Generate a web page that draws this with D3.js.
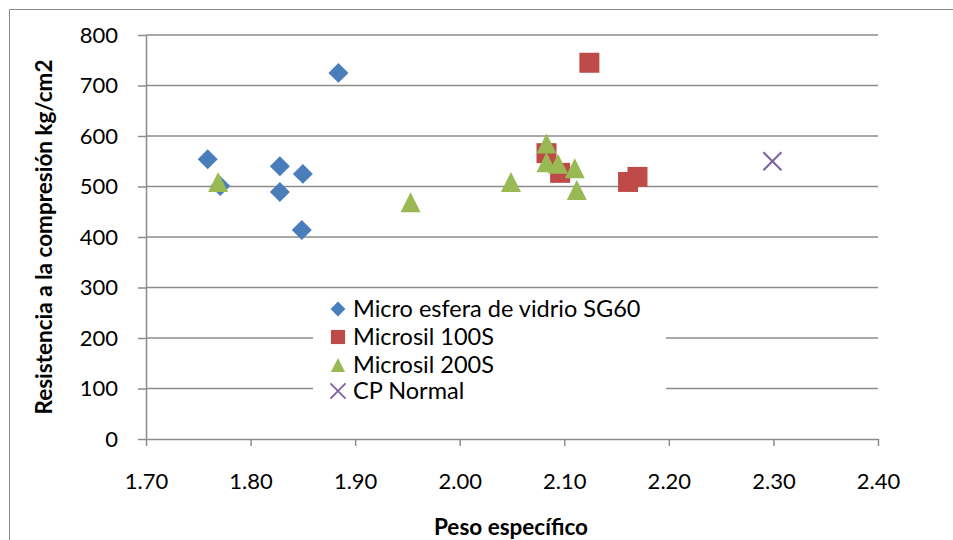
<!DOCTYPE html>
<html>
<head>
<meta charset="utf-8">
<script src="https://cdn.jsdelivr.net/npm/d3@7/dist/d3.min.js"></script>
<style>
  body { margin: 0; background: #fff; }
  svg { display: block; font-family: Lato, "Open Sans", sans-serif; }
</style>
</head>
<body>
<div id="chart"></div>
<script>
// series
const microX = [1.759, 1.771, 1.828, 1.828, 1.850, 1.849, 1.884];
const microY = [554, 501, 540, 489, 525, 414, 725];
const m100X = [2.124, 2.083, 2.096, 2.161, 2.170];
const m100Y = [745, 566, 527, 509, 519];
const m200X = [1.769, 1.953, 2.049, 2.083, 2.083, 2.094, 2.110, 2.112];
const m200Y = [509, 469, 509, 585, 548, 545, 536, 493];
const normalX = [2.299];
const normalY = [550];

const seriesNames = ["Micro esfera de vidrio SG60", "Microsil 100S", "Microsil 200S", "CP Normal"];
const xTicks = [1.7, 1.8, 1.9, 2.0, 2.1, 2.2, 2.3, 2.4];
const yTicks = [0, 100, 200, 300, 400, 500, 600, 700, 800];

const width = 953, height = 540;
const plotLeft = 146, plotRight = 878, plotTop = 35, plotBottom = 439;
const gridColor = "#8c8c8c";

// excel style triangle: centred on its bounding box, as wide as tall
const boxTriangle = {
    draw(context, size) {
        const s = Math.sqrt(size) / 2;
        context.moveTo(0, -s);
        context.lineTo(s, s);
        context.lineTo(-s, s);
        context.closePath();
    }
};

const svg = d3.select("#chart").append("svg")
    .attr("width", width)
    .attr("height", height);

// chart frame
svg.append("rect")
    .attr("x", 9.5).attr("y", 9.5)
    .attr("width", 960).attr("height", 560)
    .attr("fill", "none")
    .attr("stroke", "#8a8a8a")
    .attr("stroke-width", 1);

const x = d3.scaleLinear().domain([1.7, 2.4]).range([plotLeft, plotRight]);
const y = d3.scaleLinear().domain([0, 800]).range([plotBottom, plotTop]);

// horizontal grid
svg.append("g")
    .selectAll("line")
    .data(yTicks.filter(d => d > 0))
    .enter().append("line")
    .attr("x1", plotLeft).attr("x2", plotRight)
    .attr("y1", d => y(d)).attr("y2", d => y(d))
    .attr("stroke", gridColor)
    .attr("stroke-width", 1.5);

// axes
const yAxis = d3.axisLeft(y).tickValues(yTicks).tickSizeInner(8).tickSizeOuter(0).tickPadding(20);
const xAxis = d3.axisBottom(x).tickValues(xTicks).tickFormat(d3.format(".2f"))
    .tickSizeInner(7).tickSizeOuter(0).tickPadding(27);

const gy = svg.append("g").attr("transform", "translate(" + plotLeft + ",0)").call(yAxis);
const gx = svg.append("g").attr("transform", "translate(0," + plotBottom + ")").call(xAxis);

[gx, gy].forEach(g => {
    g.select(".domain").attr("stroke", gridColor).attr("stroke-width", 1.5);
    g.selectAll(".tick line").attr("stroke", gridColor).attr("stroke-width", 1.5);
    g.selectAll(".tick text")
        .attr("fill", "#000")
        .style("font-family", "Lato, sans-serif")
        .style("font-size", "22px");
});

// axis titles
svg.append("text")
    .attr("x", 511).attr("y", 535)
    .attr("text-anchor", "middle")
    .style("font-weight", "bold")
    .style("font-size", "22.5px")
    .text("Peso específico");

svg.append("text")
    .attr("transform", "translate(52,237) rotate(-90)")
    .attr("text-anchor", "middle")
    .style("font-weight", "bold")
    .style("font-size", "22.5px")
    .text("Resistencia a la compresión kg/cm2");

// marker shapes
const shapes = [
    {type: d3.symbolSquare, size: 200, rotate: 45, fill: "#4a7ebb", stroke: "none"},
    {type: d3.symbolSquare, size: 400, rotate: 0, fill: "#be4b48", stroke: "none"},
    {type: boxTriangle, size: 400, rotate: 0, fill: "#98b954", stroke: "none"},
    {type: d3.symbolX, size: 213, rotate: 0, fill: "none", stroke: "#7d60a0"}
];

const series = [
    d3.zip(microX, microY),
    d3.zip(m100X, m100Y),
    d3.zip(m200X, m200Y),
    d3.zip(normalX, normalY)
];

// legend box (white, hides grid underneath)
const legend = svg.append("g");
legend.append("rect")
    .attr("x", 313).attr("y", 294)
    .attr("width", 353).attr("height", 112)
    .attr("fill", "#fff");

series.forEach((pts, i) => {
    const s = shapes[i];
    svg.append("g")
        .selectAll("path")
        .data(pts)
        .enter().append("path")
        .attr("d", d3.symbol().type(s.type).size(s.size))
        .attr("transform", d => "translate(" + x(d[0]) + "," + y(d[1]) + ") rotate(" + s.rotate + ")")
        .attr("fill", s.fill)
        .attr("stroke", s.stroke)
        .attr("stroke-width", 2);
});

const legendY = [309, 337, 365, 391];
const legendSizes = [110, 200, 200, 150];
seriesNames.forEach((name, i) => {
    const s = shapes[i];
    legend.append("path")
        .attr("d", d3.symbol().type(s.type).size(legendSizes[i]))
        .attr("transform", "translate(338," + legendY[i] + ") rotate(" + s.rotate + ")")
        .attr("fill", s.fill)
        .attr("stroke", s.stroke)
        .attr("stroke-width", 1.8);
    legend.append("text")
        .attr("x", 353).attr("y", legendY[i])
        .attr("dy", "0.36em")
        .style("font-size", "23.5px")
        .text(name);
});
</script>
</body>
</html>
